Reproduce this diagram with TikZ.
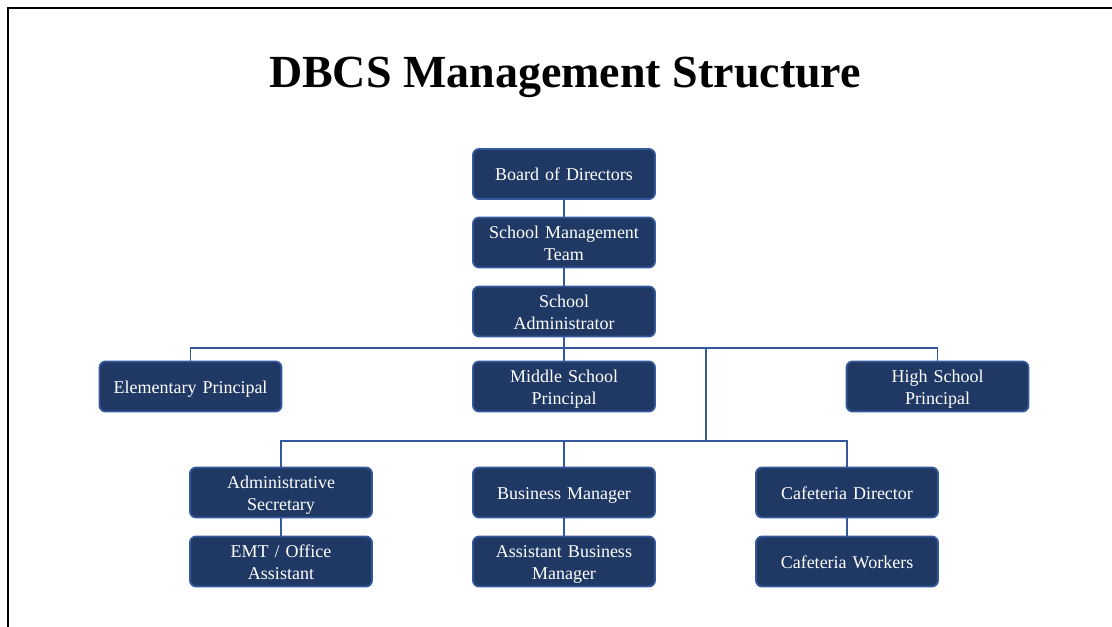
\documentclass[tikz,border=0pt]{standalone}
\usepackage{fontspec}
\setmainfont{Liberation Serif}
\usepackage{tikz}
\usetikzlibrary{calc,positioning}
\definecolor{boxfill}{RGB}{32,56,100}
\definecolor{boxline}{RGB}{52,88,156}
\newcommand{\posttop}{\rule{0pt}{18pt}}
\newcommand{\postbot}{\rule[-5pt]{0pt}{5pt}}

\begin{document}
\begin{tikzpicture}[x=1pt, y=-1pt, post/.style={draw=boxline, line width=1.8pt, fill=boxfill, rounded corners=6pt, minimum width=182pt, minimum height=50pt, text width=174pt, align=center, text=white, font=\fontsize{18}{22}\selectfont, inner sep=0pt, execute at begin node=\posttop, execute at end node=\postbot}, link/.style={draw=boxline, line width=1.8pt}]
      \useasboundingbox (0,0) rectangle (1112,627);
      \draw[line width=2.5pt] (8,627) -- (8,8) -- (1112,8);
      \node[anchor=base, font=\fontsize{46}{52}\bfseries\selectfont] (title) at (565,87) {DBCS Management Structure};

      \node[post] (board) at (564,174) {Board of Directors};
      \node[post] (smt) at (564,242.5) {School Management\\Team};
      \node[post] (sa) at (564,311.5) {School\\Administrator};

      \node[post] (elem) at (190.5,386.5) {Elementary Principal};
      \node[post] (msp) at (564,386.5) {Middle School\\Principal};
      \node[post] (hsp) at (937.5,386.5) {High School\\Principal};

      \node[post] (adm) at (281,492.5) {Administrative\\Secretary};
      \node[post] (bus) at (564,492.5) {Business Manager};
      \node[post] (caf) at (847,492.5) {Cafeteria Director};

      \node[post] (emt) at (281,561.5) {EMT / Office\\Assistant};
      \node[post] (abm) at (564,561.5) {Assistant Business\\Manager};
      \node[post] (cw) at (847,561.5) {Cafeteria Workers};

      \coordinate (j1) at (564,348);
      \coordinate (j2) at (706,348);
      \coordinate (j3) at (706,441);

      \draw[link] (board) -- (smt);
      \draw[link] (smt) -- (sa);
      \draw[link] (sa) -- (j1);
      \draw[link] (elem) |- (j1);
      \draw[link] (hsp) |- (j1);
      \draw[link] (msp) -- (j1);
      \draw[link] (j2) -- (j3);
      \draw[link] (adm) |- (j3);
      \draw[link] (caf) |- (j3);
      \draw[link] (bus) -- (bus |- j3);
      \draw[link] (adm) -- (emt);
      \draw[link] (bus) -- (abm);
      \draw[link] (caf) -- (cw);
    \end{tikzpicture}
\end{document}
